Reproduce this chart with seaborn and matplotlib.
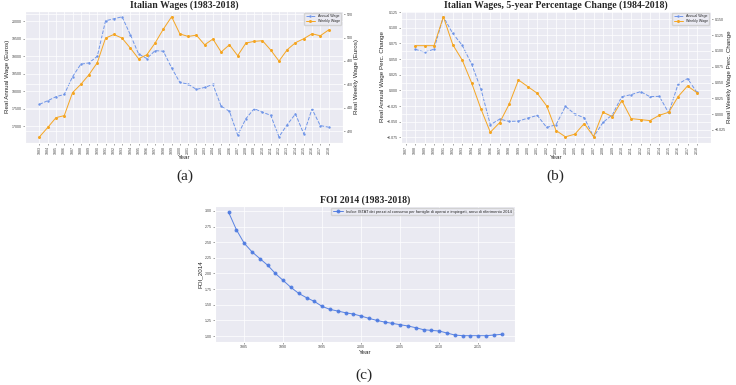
import matplotlib
matplotlib.use("Agg")
import matplotlib.pyplot as plt
import numpy as np
import pandas as pd
import seaborn as sns

# Values
years = list(range(1983, 2019))
annual_wage = [17627, 17730, 17845, 17910, 18415, 18775, 18813, 19003, 20019, 20076,
               20133, 19620, 19070, 18937, 19165, 19146, 18670, 18253, 18206, 18054,
               18111, 18196, 17570, 17427, 16744, 17218, 17503, 17400, 17313, 16696,
               17047, 17351, 16782, 17494, 17019, 16972]
weekly_wage = [415.2, 423.2, 431.6, 433.3, 452.9, 460.0, 468.3, 478.5, 499.5, 502.6,
               499.5, 491.0, 481.9, 485.3, 495.3, 507.2, 517.7, 503.1, 500.9, 502.0,
               493.8, 498.7, 487.6, 493.8, 484.5, 495.3, 496.7, 497.3, 489.3, 479.9,
               489.6, 495.6, 499.0, 503.2, 501.5, 506.4]

change_years = list(range(1988, 2019))
annual_change = [0.0658, 0.061, 0.0658, 0.1175, 0.0909, 0.0722, 0.0423, 0.0023, -0.0547,
                 -0.0457, -0.0494, -0.0489, -0.0441, -0.0398, -0.059, -0.0547, -0.0254,
                 -0.0377, -0.0435, -0.074, -0.051, -0.0387, -0.0099, -0.0067, -0.0019,
                 -0.0099, -0.0094, -0.036, 0.0103, 0.0189, -0.003]
weekly_change = [0.1084, 0.1084, 0.1084, 0.1542, 0.110, 0.0857, 0.0498, 0.0082, -0.0287,
                 -0.0134, 0.0156, 0.0541, 0.0435, 0.033, 0.013, -0.026, -0.036, -0.0318,
                 -0.015, -0.0355, 0.0029, -0.0039, 0.0214, -0.0071, -0.0087, -0.0103,
                 -0.0018, 0.0029, 0.0277, 0.0446, 0.034]

foi = [2.98, 2.70, 2.484, 2.346, 2.239, 2.133, 2.0, 1.888, 1.777, 1.681, 1.612, 1.553,
       1.473, 1.426, 1.399, 1.372, 1.351, 1.319, 1.282, 1.25, 1.223, 1.202, 1.181, 1.16,
       1.133, 1.101, 1.09, 1.08, 1.048, 1.016, 1.005, 1.005, 1.005, 1.005, 1.016, 1.027]

foi_label = ("Indice ISTAT dei prezzi al consumo per famiglie di operai e impiegati, "
             "anno di riferimento 2014")

sns.set_style("darkgrid")
plt.rcParams["font.family"] = ["Liberation Sans", "DejaVu Sans"]

blue = "#6f95e8"
orange = "#f5a623"
title_kw = dict(fontfamily="Liberation Serif", fontweight="bold", fontsize=7, pad=2)
label_size = 4.5
tick_size = 2.6


def style_ticks(ax, side="left"):
    ax.tick_params(axis="both", labelsize=tick_size, length=1.5, width=0.4,
                   color="#555555", pad=1, labelcolor="#444444")
    ax.tick_params(axis="x", bottom=True)
    if side == "left":
        ax.tick_params(axis="y", left=True)
    else:
        ax.tick_params(axis="y", right=True, left=False)
    for g in ax.get_xgridlines() + ax.get_ygridlines():
        g.set_linewidth(0.5)


def wage_panel(rect, x, y1, y2, title, ylab1, ylab2, xticks):
    ax = fig.add_axes(rect)
    sns.lineplot(x=x, y=y1, ax=ax, color=blue, marker=".", markersize=3.5,
                 markeredgewidth=0, linestyle="--", linewidth=0.7, label="Annual Wage",
                 legend=False)
    ax2 = ax.twinx()
    sns.lineplot(x=x, y=y2, ax=ax2, color=orange, marker="o", markersize=2.2,
                 markeredgewidth=0, linestyle="-", linewidth=0.7, label="Weekly Wage",
                 legend=False)
    ax.set_xticks(xticks)
    ax.set_xticklabels([str(t) for t in xticks], rotation=90)
    ax.set_title(title, **title_kw)
    ax.set_xlabel("Year", fontsize=label_size, labelpad=0.5)
    ax.set_ylabel(ylab1, fontsize=label_size, labelpad=1)
    ax2.set_ylabel(ylab2, fontsize=label_size, labelpad=1)
    style_ticks(ax, "left")
    style_ticks(ax2, "right")
    h1, l1 = ax.get_legend_handles_labels()
    h2, l2 = ax2.get_legend_handles_labels()
    ax2.legend(h1 + h2, l1 + l2, loc="upper right", fontsize=2.6, frameon=True,
               borderpad=0.4, handlelength=2.5, labelspacing=0.4)
    return ax, ax2


fig = plt.figure(figsize=(7.36, 3.85), dpi=100)

# (a) wages in euros
wage_panel([0.034, 0.629, 0.432, 0.343], years, annual_wage, weekly_wage,
           "Italian Wages (1983-2018)", "Real Annual Wage (Euros)",
           "Real Weekly Wage (Euros)", years)

# (b) 5-year percentage change
wage_panel([0.545, 0.629, 0.421, 0.343], change_years, annual_change, weekly_change,
           "Italian Wages, 5-year Percentage Change (1984-2018)",
           "Real Annual Wage Perc. Change", "Real Weekly Wage Perc. Change",
           list(range(1987, 2019)))

# (c) FOI index
axc = fig.add_axes([0.292, 0.112, 0.408, 0.353])
sns.lineplot(x=years, y=foi, ax=axc, color="#4a78e0", marker="o", markersize=2.8,
             markeredgewidth=0, linewidth=0.7, alpha=0.9, label=foi_label)
axc.set_xticks([1985, 1990, 1995, 2000, 2005, 2010, 2015])
axc.set_yticks([1.0, 1.25, 1.5, 1.75, 2.0, 2.25, 2.5, 2.75, 3.0])
axc.set_yticklabels(["1.00", "1.25", "1.50", "1.75", "2.00", "2.25", "2.50", "2.75", "3.00"])
axc.set_title("FOI 2014 (1983-2018)", **title_kw)
axc.set_xlabel("Year", fontsize=label_size, labelpad=0.5)
axc.set_ylabel("FOI_2014", fontsize=label_size, labelpad=1)
style_ticks(axc, "left")
axc.legend(loc="upper right", fontsize=2.85, frameon=True, borderpad=0.4,
           handlelength=2.5)

panel_font = dict(family="Liberation Serif", fontsize=11, ha="center", va="center")
fig.text(0.251, 0.543, "(a)", **panel_font)
fig.text(0.755, 0.543, "(b)", **panel_font)
fig.text(0.494, 0.026, "(c)", **panel_font)

fig.savefig("out.png", dpi=100)
